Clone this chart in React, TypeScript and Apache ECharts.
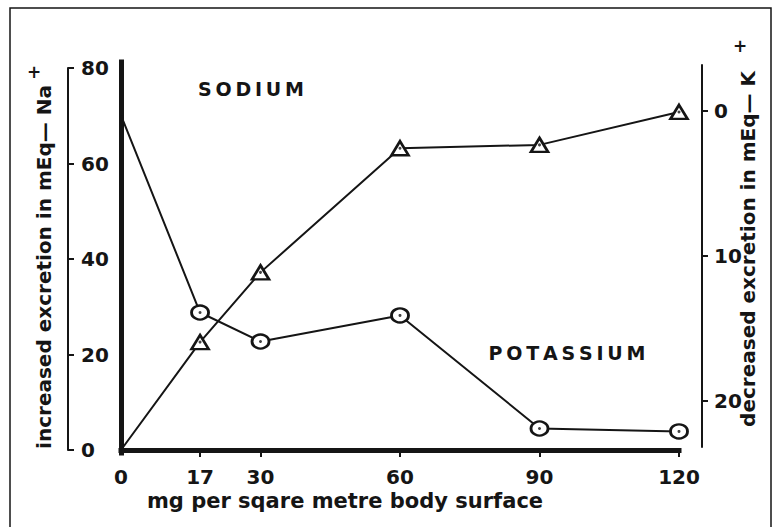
import React, { useEffect, useRef } from "react";
import * as echarts from "echarts";

const xValues = [0, 17, 30, 60, 90, 120];
const sodium = [0, 22.6, 37.2, 63.2, 63.9, 70.8];
const potassium = [0.3, 13.9, 15.9, 14.1, 21.9, 22.1];
const xTickValues = [17, 30, 60, 90, 120];
const xLabelValues = [0, 17, 30, 60, 90, 120];
const leftTickValues = [0, 20, 40, 60, 80];
const rightTickValues = [0, 10, 20];

const FONT = "DejaVu Sans";
const INK = "#151515";

export default function App() {
  const ref = useRef<HTMLDivElement>(null);
  useEffect(() => {
    if (!ref.current) return;
    const chart = echarts.init(ref.current, undefined, { renderer: "svg" });
    const naData = xValues.map((x, i) =>
      i === 0 ? { value: [x, sodium[i]], symbol: "none" } : { value: [x, sodium[i]] }
    );
    const kData = xValues.map((x, i) =>
      i === 0 ? { value: [x, potassium[i]], symbol: "none" } : { value: [x, potassium[i]] }
    );
    const naDots = xValues.slice(1).map((x, i) => [x, sodium[i + 1]]);
    const kDots = xValues.slice(1).map((x, i) => [x, potassium[i + 1]]);

    const labelStyle = { color: INK, fontFamily: FONT, fontSize: 20, fontWeight: "bold" as const };

    chart.setOption({
      animation: false,
      backgroundColor: "#ffffff",
      grid: [
        { left: 121, top: 62, width: 558, height: 391 },
        { left: 68, top: 68, width: 1, height: 382 },
        { left: 702, top: 65, width: 1, height: 382 },
      ],
      xAxis: [
        {
          gridIndex: 0,
          type: "value",
          min: 0,
          max: 120,
          position: "bottom",
          axisLine: { show: true, lineStyle: { color: INK, width: 5, cap: "square" } },
          axisTick: { show: true, customValues: xTickValues, length: 7, lineStyle: { color: INK, width: 2 } },
          axisLabel: { show: true, customValues: xLabelValues, margin: 14, ...labelStyle },
          splitLine: { show: false },
        },
        { gridIndex: 1, type: "value", min: 0, max: 1, show: false },
        { gridIndex: 2, type: "value", min: 0, max: 1, show: false },
      ],
      yAxis: [
        {
          gridIndex: 0,
          type: "value",
          min: -0.63,
          max: 81.26,
          axisLine: { show: true, lineStyle: { color: INK, width: 5, cap: "square" } },
          axisTick: { show: false },
          axisLabel: { show: false },
          splitLine: { show: false },
        },
        {
          gridIndex: 0,
          type: "value",
          inverse: true,
          min: -3.38,
          max: 23.59,
          show: false,
          splitLine: { show: false },
        },
        {
          gridIndex: 1,
          type: "value",
          min: 0,
          max: 80,
          interval: 20,
          position: "left",
          axisLine: { show: true, lineStyle: { color: INK, width: 2 } },
          axisTick: { show: true, inside: true, customValues: leftTickValues, length: 6, lineStyle: { color: INK, width: 2 } },
          axisLabel: { show: true, inside: true, customValues: leftTickValues, margin: 13, ...labelStyle },
          splitLine: { show: false },
        },
        {
          gridIndex: 2,
          type: "value",
          inverse: true,
          min: -3.17,
          max: 23.17,
          position: "left",
          axisLine: { show: true, lineStyle: { color: INK, width: 2 } },
          axisTick: { show: true, inside: true, customValues: rightTickValues, length: 6, lineStyle: { color: INK, width: 2 } },
          axisLabel: { show: true, inside: true, customValues: rightTickValues, margin: 12, ...labelStyle },
          splitLine: { show: false },
        },
      ],
      series: [
        {
          name: "Sodium",
          type: "line",
          xAxisIndex: 0,
          yAxisIndex: 0,
          data: naData,
          symbol: "triangle",
          symbolSize: [17, 14],
          lineStyle: { color: INK, width: 2 },
          itemStyle: { color: "#ffffff", borderColor: INK, borderWidth: 2.6 },
          z: 3,
        },
        {
          name: "Potassium",
          type: "line",
          xAxisIndex: 0,
          yAxisIndex: 1,
          data: kData,
          symbol: "circle",
          symbolSize: [17, 14],
          lineStyle: { color: INK, width: 2 },
          itemStyle: { color: "#ffffff", borderColor: INK, borderWidth: 2.6 },
          z: 3,
        },
        {
          type: "scatter",
          xAxisIndex: 0,
          yAxisIndex: 0,
          data: naDots,
          symbol: "circle",
          symbolSize: 3,
          itemStyle: { color: INK },
          z: 5,
        },
        {
          type: "scatter",
          xAxisIndex: 0,
          yAxisIndex: 1,
          data: kDots,
          symbol: "circle",
          symbolSize: 3,
          itemStyle: { color: INK },
          z: 5,
        },
      ],
      graphic: [
        {
          type: "polyline",
          shape: { points: [[10, 527], [10, 8], [771, 8], [771, 527]] },
          style: { stroke: INK, lineWidth: 1.5, fill: "none" },
          silent: true,
        },
        {
          type: "text",
          x: 44,
          y: 267,
          rotation: Math.PI / 2,
          style: {
            text: "increased excretion in mEq\u2014 Na",
            fill: INK,
            font: `bold 20px "${FONT}"`,
            align: "center",
            verticalAlign: "middle",
          },
        },
        {
          type: "text",
          x: 34,
          y: 72,
          style: { text: "+", fill: INK, font: `bold 17px "${FONT}"`, align: "center", verticalAlign: "middle" },
        },
        {
          type: "text",
          x: 748,
          y: 249,
          rotation: Math.PI / 2,
          style: {
            text: "decreased excretion in mEq\u2014 K",
            fill: INK,
            font: `bold 20px "${FONT}"`,
            align: "center",
            verticalAlign: "middle",
          },
        },
        {
          type: "text",
          x: 740,
          y: 46,
          style: { text: "+", fill: INK, font: `bold 17px "${FONT}"`, align: "center", verticalAlign: "middle" },
        },
        {
          type: "text",
          x: 345,
          y: 501,
          style: {
            text: "mg per sqare metre body surface",
            fill: INK,
            font: `bold 21px "${FONT}"`,
            align: "center",
            verticalAlign: "middle",
          },
        },
        {
          type: "text",
          x: 251,
          y: 89,
          style: {
            text: "S\u2009O\u2009D\u2009I\u2009U\u2009M",
            fill: INK,
            font: `bold 19px "${FONT}"`,
            align: "center",
            verticalAlign: "middle",
          },
        },
        {
          type: "text",
          x: 567,
          y: 353,
          style: {
            text: "P\u2009O\u2009T\u2009A\u2009S\u2009S\u2009I\u2009U\u2009M",
            fill: INK,
            font: `bold 19px "${FONT}"`,
            align: "center",
            verticalAlign: "middle",
          },
        },
      ],
    });
    return () => chart.dispose();
  }, []);
  return (
    <div
      ref={ref}
      style={{ position: "fixed", left: 0, top: 0, width: 780, height: 527, background: "#fff" }}
    />
  );
}
